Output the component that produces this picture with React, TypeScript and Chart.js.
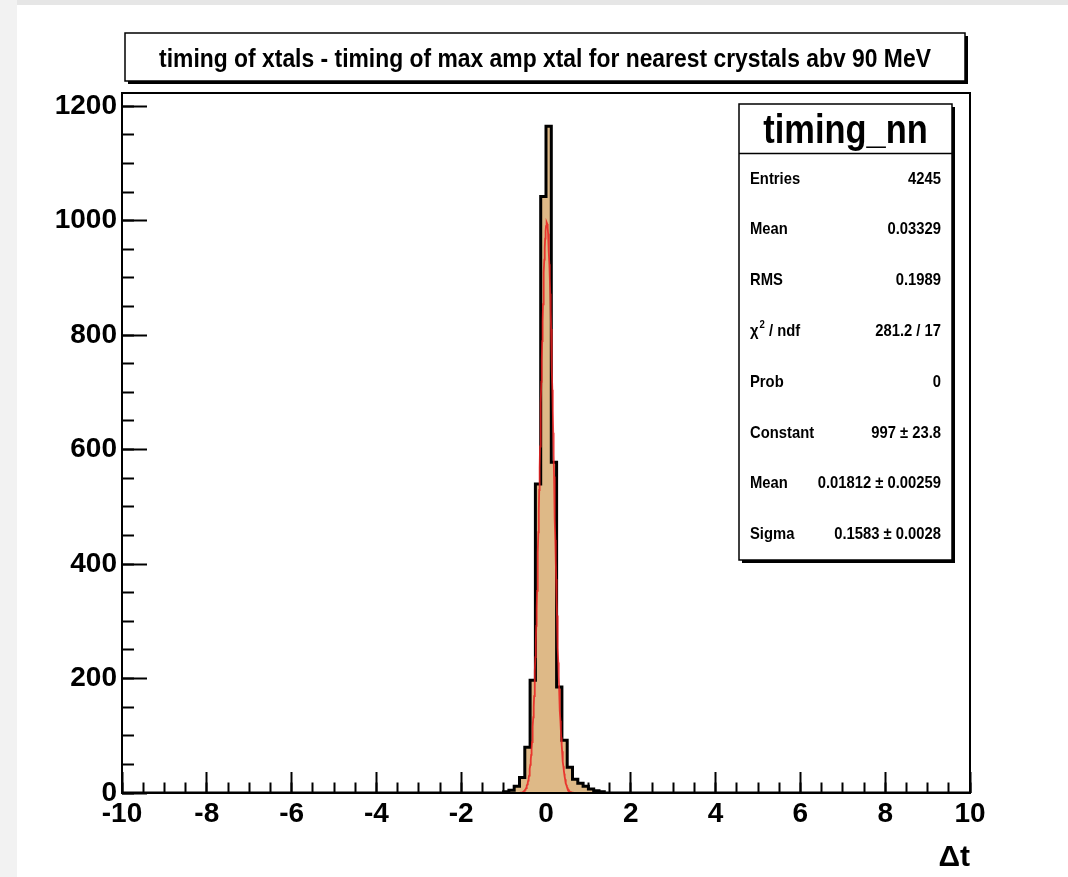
import { useEffect, useRef } from "react";
import { Chart, registerables } from "chart.js";

Chart.register(...registerables);

// Histogram binning (160 bins over [-10, 10])
const X_MIN = -10;
const X_MAX = 10;
const BIN_WIDTH = 0.125;
// Left edge of the first bin listed in binCounts; all other bins are empty
const FIRST_FILLED_EDGE = -1.0;
const binCounts = [2, 5, 12, 27, 80, 197, 540, 1042, 1165, 578, 185, 92, 45, 24, 17, 12, 7, 4, 2];
const Y_MAX = 1223;

const xMajorTicks = [-10, -8, -6, -4, -2, 0, 2, 4, 6, 8, 10];
const yMajorTicks = [0, 200, 400, 600, 800, 1000, 1200];

const histName = "timing_nn";
const titleText = "timing of xtals - timing of max amp xtal for nearest crystals abv 90 MeV";
const xTitle = "\u0394t";

// Gaussian fit result
const FIT_CONSTANT = 997;
const FIT_MEAN = 0.01812;
const FIT_SIGMA = 0.1583;

const statLabels = ["Entries", "Mean", "RMS", "\u03c7^2 / ndf", "Prob", "Constant", "Mean", "Sigma"];
const statValues = [
  "4245",
  "0.03329",
  "0.1989",
  "281.2 / 17",
  "0",
  "997 \u00b1 23.8",
  "0.01812 \u00b1 0.00259",
  "0.1583 \u00b1 0.0028",
];

const FONT = "'Liberation Sans', Arial, sans-serif";
const FILL = "rgb(222, 185, 135)";

function buildHistPoints() {
  const nBins = Math.round((X_MAX - X_MIN) / BIN_WIDTH);
  const firstIdx = Math.round((FIRST_FILLED_EDGE - X_MIN) / BIN_WIDTH);
  const pts: { x: number; y: number }[] = [];
  for (let i = 0; i < nBins; i++) {
    const j = i - firstIdx;
    pts.push({ x: X_MIN + i * BIN_WIDTH, y: j >= 0 && j < binCounts.length ? binCounts[j] : 0 });
  }
  pts.push({ x: X_MAX, y: 0 });
  return pts;
}

function buildFitPoints() {
  const pts: { x: number; y: number }[] = [];
  for (let k = -150; k <= 150; k++) {
    const x = k / 100;
    const d = (x - FIT_MEAN) / FIT_SIGMA;
    pts.push({ x, y: FIT_CONSTANT * Math.exp(-0.5 * d * d) });
  }
  return pts;
}

function shadowBox(ctx: CanvasRenderingContext2D, x: number, y: number, w: number, h: number, s: number) {
  ctx.fillStyle = "#000";
  ctx.fillRect(x + s, y + s, w, h);
  ctx.fillStyle = "#fff";
  ctx.fillRect(x, y, w, h);
  ctx.strokeStyle = "#000";
  ctx.lineWidth = 1.5;
  ctx.strokeRect(x, y, w, h);
}

// text drawn with a horizontal squeeze, like the condensed Helvetica of the original canvas
function squeezedText(
  ctx: CanvasRenderingContext2D,
  text: string,
  x: number,
  y: number,
  sx: number,
  align: CanvasTextAlign
) {
  ctx.save();
  ctx.translate(x, y);
  ctx.scale(sx, 1);
  ctx.textAlign = align;
  ctx.fillStyle = "#000";
  ctx.fillText(text, 0, 0);
  const w = ctx.measureText(text).width * sx;
  ctx.restore();
  return w;
}

const decorations = {
  id: "histDecorations",
  afterDraw(chart: Chart) {
    const { ctx, chartArea } = chart;
    ctx.save();

    // plot frame
    ctx.strokeStyle = "#000";
    ctx.lineWidth = 2;
    ctx.strokeRect(chartArea.left, chartArea.top, chartArea.right - chartArea.left, chartArea.bottom - chartArea.top);

    // title box
    shadowBox(ctx, 125, 33, 840, 48, 3);
    ctx.font = `bold 26px ${FONT}`;
    ctx.textBaseline = "alphabetic";
    squeezedText(ctx, titleText, 545, 67, 0.88, "center");

    // statistics box
    const bx = 739, by = 104, bw = 213, bh = 456;
    shadowBox(ctx, bx, by, bw, bh, 3);
    const headerBottom = 153.5;
    ctx.beginPath();
    ctx.moveTo(bx, headerBottom);
    ctx.lineTo(bx + bw, headerBottom);
    ctx.lineWidth = 1.5;
    ctx.strokeStyle = "#000";
    ctx.stroke();
    ctx.font = `bold 40px ${FONT}`;
    squeezedText(ctx, histName, bx + bw / 2, 143, 0.86, "center");

    const rowH = (by + bh - headerBottom) / statLabels.length;
    const sx = 0.87;
    ctx.textBaseline = "middle";
    statLabels.forEach((label, i) => {
      const cy = headerBottom + (i + 0.5) * rowH;
      ctx.font = `bold 17px ${FONT}`;
      const sup = label.indexOf("^");
      if (sup >= 0) {
        const base = label.slice(0, sup);
        const exp = label.charAt(sup + 1);
        const rest = label.slice(sup + 2);
        let x = 750;
        x += squeezedText(ctx, base, x, cy, sx, "left") + 1;
        ctx.font = `bold 11px ${FONT}`;
        x += squeezedText(ctx, exp, x, cy - 6, sx, "left");
        ctx.font = `bold 17px ${FONT}`;
        squeezedText(ctx, rest, x, cy, sx, "left");
      } else {
        squeezedText(ctx, label, 750, cy, sx, "left");
      }
      squeezedText(ctx, statValues[i], 941, cy, sx, "right");
    });

    ctx.restore();
  },
};

export default function App() {
  const ref = useRef<HTMLCanvasElement>(null);

  useEffect(() => {
    const tickFont = { family: FONT, size: 28, weight: "bold" as const };
    const chart = new Chart(ref.current!, {
      type: "line",
      data: {
        datasets: [
          {
            label: "fit",
            data: buildFitPoints(),
            borderColor: "rgba(235, 30, 30, 0.85)",
            borderWidth: 1.8,
            pointRadius: 0,
            fill: false,
            tension: 0,
          },
          {
            label: histName,
            data: buildHistPoints(),
            stepped: true,
            borderColor: "#000",
            borderWidth: 3,
            backgroundColor: FILL,
            fill: "origin",
            pointRadius: 0,
          },
        ],
      },
      options: {
        animation: false,
        responsive: false,
        devicePixelRatio: 1,
        layout: { padding: { left: 22, right: 98, top: 93, bottom: 0 } },
        plugins: { legend: { display: false }, tooltip: { enabled: false }, title: { display: false } },
        events: [],
        scales: {
          x: {
            type: "linear",
            min: X_MIN,
            max: X_MAX,
            z: 1,
            afterFit: (s: any) => {
              s.height = 84;
            },
            afterBuildTicks: (s: any) => {
              s.ticks = xMajorTicks.map((v) => ({ value: v }));
            },
            ticks: {
              autoSkip: false,
              maxRotation: 0,
              color: "#000",
              font: tickFont,
              padding: 25,
              callback: (v: any) => String(v),
            },
            grid: { drawOnChartArea: false, tickLength: -21, tickColor: "#000", tickWidth: 2 },
            border: { display: false },
            title: {
              display: true,
              text: xTitle,
              align: "end",
              color: "#000",
              font: { family: FONT, size: 30, weight: "bold" },
              padding: { top: 0, bottom: 1 },
            },
          },
          xMinor: {
            type: "linear",
            min: X_MIN,
            max: X_MAX,
            position: { y: 0 },
            z: 1,
            ticks: { display: false, stepSize: 0.5 },
            grid: { drawOnChartArea: false, tickLength: -10.5, tickColor: "#000", tickWidth: 2 },
            border: { display: false },
          },
          y: {
            type: "linear",
            min: 0,
            max: Y_MAX,
            z: 1,
            afterFit: (s: any) => {
              s.width = 100;
            },
            afterBuildTicks: (s: any) => {
              s.ticks = yMajorTicks.map((v) => ({ value: v }));
            },
            ticks: {
              autoSkip: false,
              color: "#000",
              font: tickFont,
              padding: 30,
              callback: (v: any) => String(v),
            },
            grid: { drawOnChartArea: false, tickLength: -25, tickColor: "#000", tickWidth: 2 },
            border: { display: false },
          },
          yMinor: {
            type: "linear",
            min: 0,
            max: Y_MAX,
            position: { x: X_MIN },
            z: 1,
            ticks: { display: false, stepSize: 50, includeBounds: false },
            grid: { drawOnChartArea: false, tickLength: -12, tickColor: "#000", tickWidth: 2 },
            border: { display: false },
          },
        },
      },
      plugins: [decorations],
    } as any);
    return () => chart.destroy();
  }, []);

  return (
    <div style={{ position: "absolute", left: 0, top: 0, width: 1068, height: 877, background: "#fff", overflow: "hidden" }}>
      <div style={{ position: "absolute", left: 0, top: 0, width: 1068, height: 5, background: "#e6e6e6" }} />
      <div style={{ position: "absolute", left: 0, top: 0, width: 17, height: 877, background: "#f2f2f2" }} />
      <canvas ref={ref} width={1068} height={877} style={{ position: "absolute", left: 0, top: 0 }} />
    </div>
  );
}
